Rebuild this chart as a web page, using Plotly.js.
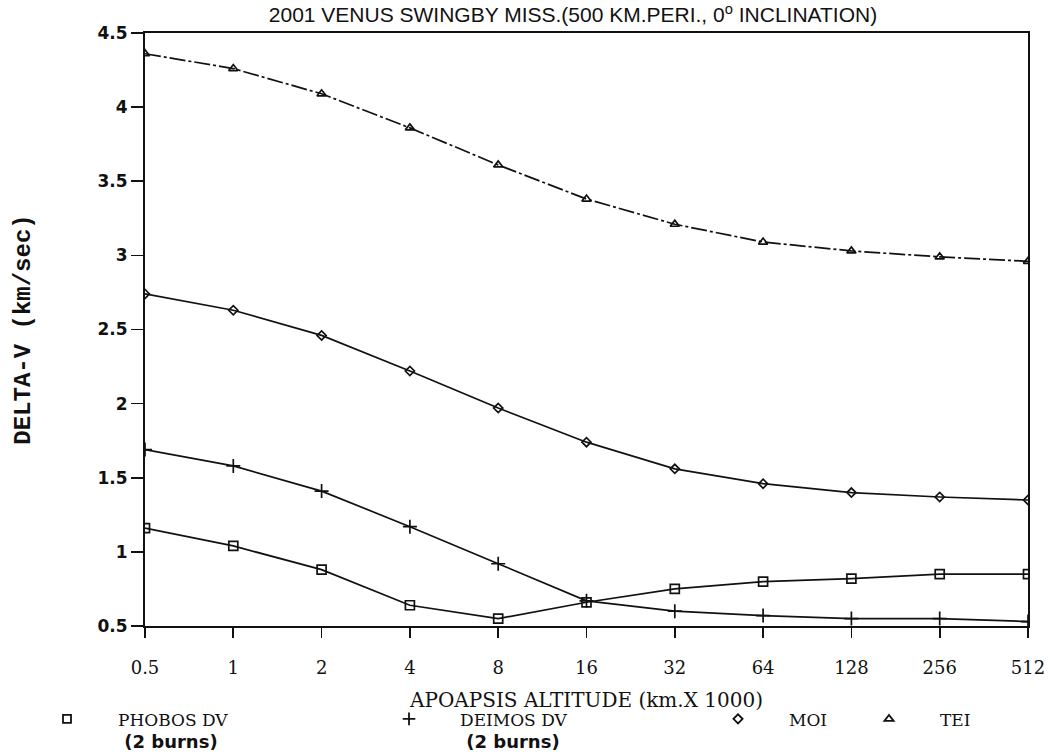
<!DOCTYPE html>
<html>
<head>
<meta charset="utf-8">
<script src="https://cdn.plot.ly/plotly-3.0.1.min.js"></script>
<style>
  html, body { margin: 0; padding: 0; background: #ffffff; }
  #chart { width: 1055px; height: 756px; }
</style>
</head>
<body>
<div id="chart"></div>
<script>
// Apoapsis altitude (km x 1000)
const apoapsis = [0.5, 1, 2, 4, 8, 16, 32, 64, 128, 256, 512];
const apoapsisLabels = ['0.5', '1', '2', '4', '8', '16', '32', '64', '128', '256', '512'];

// Delta-V (km/sec)
const phobosDV = [1.16, 1.04, 0.88, 0.64, 0.55, 0.66, 0.75, 0.80, 0.82, 0.85, 0.85];
const deimosDV = [1.69, 1.58, 1.41, 1.17, 0.92, 0.67, 0.60, 0.57, 0.55, 0.55, 0.53];
const moiDV    = [2.74, 2.63, 2.46, 2.22, 1.97, 1.74, 1.56, 1.46, 1.40, 1.37, 1.35];
const teiDV    = [4.36, 4.26, 4.09, 3.86, 3.61, 3.38, 3.21, 3.09, 3.03, 2.99, 2.96];

const yTicks = [0.5, 1, 1.5, 2, 2.5, 3, 3.5, 4, 4.5];
const yTickLabels = ['0.5', '1', '1.5', '2', '2.5', '3', '3.5', '4', '4.5'];

const seriesLabels = ['PHOBOS DV', 'DEIMOS DV', 'MOI', 'TEI'];
const seriesSubLabels = ['(2 burns)', '(2 burns)', '', ''];

const black = '#111111';

function legendName(i) {
  let s = "<span style=\"font-family:'DejaVu Serif'\">" + seriesLabels[i] + "</span>";
  if (seriesSubLabels[i]) {
    s += "<br><span style=\"font-family:'DejaVu Sans';font-weight:bold;font-size:18px\">&nbsp;" + seriesSubLabels[i] + "</span>";
  }
  return s;
}

const dataTraces = [
  { y: phobosDV, symbol: 'square-open', size: 9, dash: 'solid' },
  { y: deimosDV, symbol: 'cross-thin-open', size: 10, dash: 'solid' },
  { y: moiDV, symbol: 'diamond-open', size: 7, dash: 'solid' },
  { y: teiDV, symbol: 'triangle-up-open', size: 8, dash: '16px,3px,3px,3px' }
].map(s => ({
  type: 'scatter',
  mode: 'lines+markers',
  x: apoapsis,
  y: s.y,
  showlegend: false,
  line: { color: black, width: 1.7, dash: s.dash },
  marker: { symbol: s.symbol, size: s.size, color: black, line: { color: black, width: 1.7 } },
  hoverinfo: 'x+y'
}));

const legendSymbols = ['square-open', 'cross-thin-open', 'diamond-open', 'triangle-up-open'];
const legendSizes = [8, 9, 7, 8];
const legendIds = ['legend', 'legend2', 'legend3', 'legend4'];
const legendTraces = legendSymbols.map((sym, i) => ({
  type: 'scatter',
  mode: 'markers',
  x: [null],
  y: [null],
  name: legendName(i),
  legend: legendIds[i],
  showlegend: true,
  marker: { symbol: sym, size: legendSizes[i], color: black, line: { color: black, width: 1.8 } }
}));

const plotL = 145, plotR = 1028;
const px = p => (p - plotL) / (plotR - plotL);
const legendFont = { family: 'DejaVu Serif', size: 17, color: black };
const legendBase = {
  orientation: 'v', xanchor: 'left', yanchor: 'top', valign: 'top',
  font: legendFont, bgcolor: 'rgba(0,0,0,0)', borderwidth: 0,
  itemclick: false, itemdoubleclick: false, y: -0.127, itemwidth: 92
};

const layout = {
  width: 1055,
  height: 756,
  paper_bgcolor: '#ffffff',
  plot_bgcolor: '#ffffff',
  margin: { l: plotL, r: 1055 - plotR, t: 33, b: 130, autoexpand: false },
  title: {
    text: '2001 VENUS SWINGBY MISS.(500 KM.PERI., 0<sup>o</sup> INCLINATION)',
    font: { family: 'Liberation Sans', size: 21, color: black },
    xref: 'container', x: 573 / 1055, xanchor: 'center',
    yref: 'container', y: 1 - 15 / 756, yanchor: 'middle'
  },
  xaxis: {
    type: 'log',
    range: [Math.log10(0.5), Math.log10(512)],
    tickmode: 'array',
    tickvals: apoapsis,
    ticktext: apoapsisLabels,
    ticks: 'outside',
    ticklen: 10,
    tickwidth: 1.7,
    tickcolor: black,
    ticklabelstandoff: 14,
    showline: true,
    linecolor: black,
    linewidth: 2,
    mirror: true,
    showgrid: false,
    zeroline: false,
    tickfont: { family: 'DejaVu Serif', size: 18, color: black },
    title: {
      text: 'APOAPSIS ALTITUDE (km.X 1000)',
      font: { family: 'DejaVu Serif', size: 20, color: black },
      standoff: 16
    },
    automargin: false
  },
  yaxis: {
    range: [0.5, 4.5],
    tickmode: 'array',
    tickvals: yTicks,
    ticktext: yTickLabels,
    ticks: 'outside',
    ticklen: 12,
    tickwidth: 1.7,
    tickcolor: black,
    showline: true,
    linecolor: black,
    linewidth: 2,
    mirror: true,
    showgrid: false,
    zeroline: false,
    tickfont: { family: 'DejaVu Sans', size: 17, color: black, weight: 'bold' },
    title: {
      text: 'DELTA-V (km/sec)',
      font: { family: 'Liberation Mono', size: 24, color: black, weight: 'bold' },
      standoff: 60
    },
    automargin: false
  },
  legend:  Object.assign({}, legendBase, { x: px(16) }),
  legend2: Object.assign({}, legendBase, { x: px(358) }),
  legend3: Object.assign({}, legendBase, { x: px(687) }),
  legend4: Object.assign({}, legendBase, { x: px(838) }),
  showlegend: true
};

Plotly.newPlot('chart', dataTraces.concat(legendTraces), layout, { displayModeBar: false, staticPlot: true });
</script>
</body>
</html>
